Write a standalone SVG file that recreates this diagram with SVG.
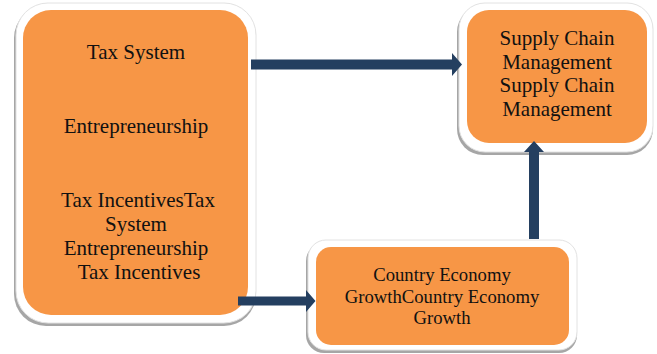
<svg xmlns="http://www.w3.org/2000/svg" width="657" height="354" viewBox="0 0 657 354">
  <defs>
    <style>
      .shadow { fill: #a6a6a6; }
      .frame { fill: #ffffff; stroke: #e2e2e2; stroke-width: 1; }
      .body { fill: #f79646; }
      .label { font-family: "Liberation Serif", "Times New Roman", serif; fill: #111111; text-anchor: middle; }
      .arrow { fill: #243f60; }
    </style>
  </defs>
  <rect width="657" height="354" fill="#ffffff"/>

  <!-- Left node: drivers -->
  <g id="drivers">
    <rect class="shadow" x="14" y="6" width="242" height="320" rx="32"/>
    <rect class="frame" x="16" y="3" width="240" height="320" rx="32"/>
    <rect class="body" x="23" y="10" width="225" height="305" rx="28"/>
    <text class="label" font-size="21" x="136" y="59">Tax System</text>
    <text class="label" font-size="21" x="136" y="133">Entrepreneurship</text>
    <text class="label" font-size="21" x="138" y="207">Tax IncentivesTax</text>
    <text class="label" font-size="21" x="136" y="231">System</text>
    <text class="label" font-size="21" x="136" y="255">Entrepreneurship</text>
    <text class="label" font-size="21" x="139" y="279">Tax Incentives</text>
  </g>

  <!-- Top-right node: supply chain -->
  <g id="supply-chain">
    <rect class="shadow" x="457" y="6" width="196" height="149" rx="26"/>
    <rect class="frame" x="459" y="3" width="194" height="149" rx="26"/>
    <rect class="body" x="467" y="10" width="180" height="133" rx="22"/>
    <text class="label" font-size="21" x="557" y="45">Supply Chain</text>
    <text class="label" font-size="21" x="557" y="68.5">Management</text>
    <text class="label" font-size="21" x="557" y="92">Supply Chain</text>
    <text class="label" font-size="21" x="557" y="115.5">Management</text>
  </g>

  <!-- Bottom node: economy -->
  <g id="economy">
    <rect class="shadow" x="306" y="243" width="271" height="110" rx="18"/>
    <rect class="frame" x="308" y="240" width="269" height="110" rx="18"/>
    <rect class="body" x="316" y="247" width="253" height="98" rx="15"/>
    <text class="label" font-size="18.7" x="442" y="281">Country Economy</text>
    <text class="label" font-size="18.7" x="442" y="303">GrowthCountry Economy</text>
    <text class="label" font-size="18.7" x="442" y="324">Growth</text>
  </g>

  <!-- Connectors -->
  <g id="connectors">
    <!-- drivers to supply chain -->
    <polygon class="arrow" points="251,59.5 452,59.5 452,53 462,64.5 452,76 452,69.5 251,69.5"/>
    <!-- drivers to economy -->
    <polygon class="arrow" points="238,296.5 306,296.5 306,290 315.5,301 306,312 306,305.5 238,305.5"/>
    <!-- economy to supply chain -->
    <polygon class="arrow" points="529,239 529,152 524,152 534,141 544,152 539,152 539,239"/>
  </g>
</svg>
